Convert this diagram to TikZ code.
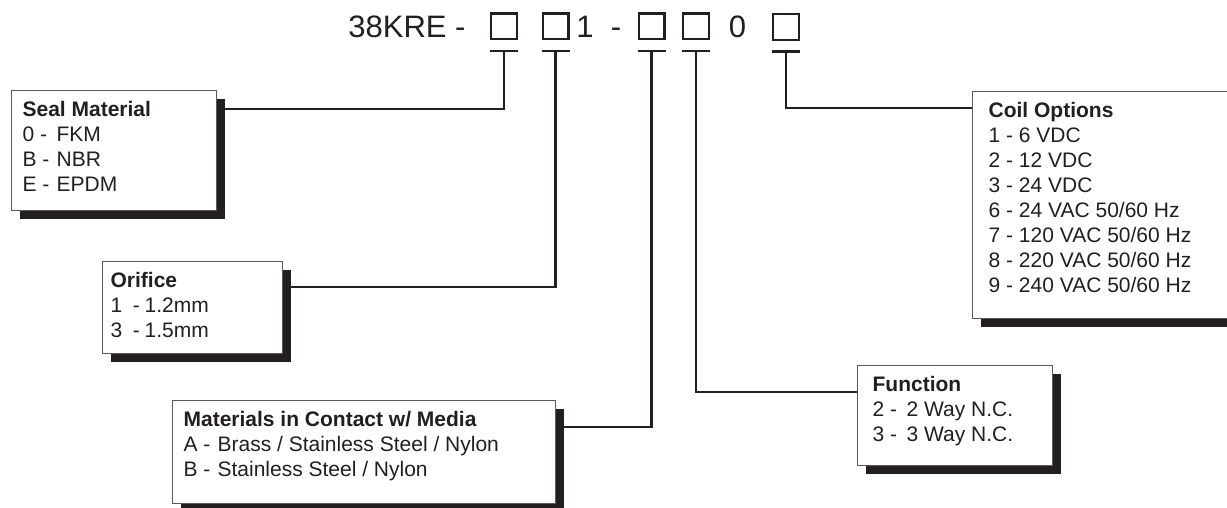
\documentclass[tikz,border=0pt]{standalone}
\usepackage{fontspec}
\setmainfont{Liberation Sans}
\usetikzlibrary{shadows}

\definecolor{ink}{HTML}{231F20}
\definecolor{rim}{HTML}{58595B}

\tikzset{
    optbox/.style={draw=rim, line width=0.6pt, fill=white, rectangle, anchor=north west,
        inner xsep=5.5pt, inner ysep=5.5pt, text=ink, font=\fontsize{10.5}{12.5}\selectfont,
        drop shadow={shadow xshift=4.2pt, shadow yshift=-4.2pt, fill=ink, opacity=1}},
    digit/.style={draw=ink, line width=1.2pt, minimum size=12.8pt, inner sep=0pt},
    code/.style={anchor=base, inner sep=0pt, text=ink, font=\fontsize{15.5}{18}\selectfont},
    lead/.style={draw=ink, line width=1.1pt},
}

% fixed size text block inside an option box
\newcommand{\optbody}[3]{\parbox[t][#2][t]{#1}{#3}}
\newcommand{\opt}[2]{\makebox[17pt][l]{#1}#2\par}

\begin{document}
\begin{tikzpicture}[x=0.5pt, y=-0.5pt]
    \useasboundingbox (0,0) rectangle (1227,508);

    % model code
    \node[code, anchor=base west] (model) at (348,38) {38KRE -};
    \node[digit] (sq1) at (504,26.5) {};
    \node[digit] (sq2) at (555.5,26.5) {};
    \node[code] (one) at (585,38) {1};
    \node[code] (dash) at (616,38) {-};
    \node[digit] (sq3) at (651.5,26.5) {};
    \node[digit] (sq4) at (696,26.5) {};
    \node[code] (zero) at (737.5,38) {0};
    \node[digit] (sq5) at (786,27) {};

    % Seal Material
    \node[optbox] (seal) at (11,90) {
        \optbody{91.5pt}{49pt}{
            \textbf{Seal Material}\par
            \opt{0 -}{FKM}
            \opt{B -}{NBR}
            \opt{E -}{EPDM}
        }
    };

    % Orifice
    \node[optbox, inner xsep=4pt] (orifice) at (102,261) {
        \optbody{82pt}{35pt}{
            \textbf{Orifice}\par
            \opt{1\enspace-}{1.2mm}
            \opt{3\enspace-}{1.5mm}
        }
    };

    % Materials in Contact w/ Media
    \node[optbox] (media) at (172,400) {
        \optbody{180.5pt}{40.5pt}{
            \textbf{Materials in Contact w/ Media}\par
            \opt{A -}{Brass / Stainless Steel / Nylon}
            \opt{B -}{Stainless Steel / Nylon}
        }
    };

    % Function
    \node[optbox, inner xsep=7.5pt] (function) at (857,365) {
        \optbody{82.5pt}{39pt}{
            \textbf{Function}\par
            \opt{2 -}{2 Way N.C.}
            \opt{3 -}{3 Way N.C.}
        }
    };

    % Coil Options
    \node[optbox, inner xsep=8pt] (coil) at (972,91) {
        \optbody{134pt}{102.5pt}{
            \textbf{Coil Options}\par
            1 - 6 VDC\par
            2 - 12 VDC\par
            3 - 24 VDC\par
            6 - 24 VAC 50/60 Hz\par
            7 - 120 VAC 50/60 Hz\par
            8 - 220 VAC 50/60 Hz\par
            9 - 240 VAC 50/60 Hz
        }
    };

    % tees under the code boxes
    \foreach \sq in {sq1,sq2,sq3,sq4,sq5}
        \draw[lead] ([yshift=-5.25pt]\sq.south west) -- ([yshift=-5.25pt]\sq.south east);

    % leaders
    \draw[lead] ([yshift=-5.25pt]sq1.south) |- ([yshift=-9.5pt]seal.north east);
    \draw[lead] ([yshift=-5.25pt]sq2.south) |- ([yshift=-13pt]orifice.north east);
    \draw[lead] ([yshift=-5.25pt]sq3.south) |- ([yshift=-13.5pt]media.north east);
    \draw[lead] ([yshift=-5.25pt]sq4.south) |- ([yshift=-13.5pt]function.north west);
    \draw[lead] ([yshift=-5.25pt]sq5.south) |- ([yshift=-8.5pt]coil.north west);
\end{tikzpicture}
\end{document}
